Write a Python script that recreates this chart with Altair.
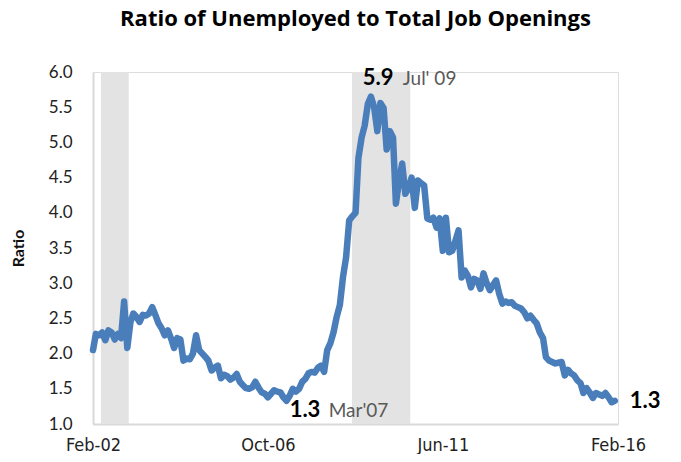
import altair as alt
import pandas as pd

# Monthly ratio, Feb 2002 .. Jan 2016
ratio = [
    2.05, 2.28, 2.26, 2.30, 2.19, 2.33, 2.30, 2.20, 2.28, 2.22,
    2.74, 2.08, 2.45, 2.57, 2.52, 2.45, 2.55, 2.54, 2.57, 2.66,
    2.55, 2.43, 2.36, 2.26, 2.33, 2.22, 2.08, 2.22, 2.20, 1.90,
    1.93, 1.92, 2.00, 2.26, 2.05, 2.00, 1.95, 1.90, 1.76, 1.80,
    1.83, 1.65, 1.70, 1.68, 1.63, 1.66, 1.71, 1.60, 1.55, 1.51,
    1.50, 1.52, 1.60, 1.52, 1.45, 1.43, 1.38, 1.43, 1.48, 1.46,
    1.45, 1.38, 1.33, 1.40, 1.50, 1.46, 1.50, 1.60, 1.64, 1.72,
    1.74, 1.73, 1.80, 1.83, 1.74, 2.05, 2.15, 2.30, 2.52, 2.69,
    3.08, 3.37, 3.89, 3.95, 4.00, 4.78, 5.07, 5.24, 5.55, 5.65,
    5.50, 5.16, 5.56, 5.49, 4.90, 5.16, 5.07, 4.13, 4.45, 4.70,
    4.27, 4.35, 4.50, 4.07, 4.46, 4.42, 4.39, 3.92, 3.90, 3.93,
    3.79, 3.92, 3.46, 3.93, 3.44, 3.46, 3.60, 3.75, 3.08, 3.18,
    3.10, 2.94, 3.06, 3.04, 2.92, 3.14, 3.00, 2.90, 2.97, 3.04,
    2.85, 2.71, 2.74, 2.72, 2.73, 2.68, 2.66, 2.64, 2.59, 2.50,
    2.54, 2.48, 2.43, 2.30, 2.22, 1.95, 1.90, 1.88, 1.86, 1.87,
    1.88, 1.69, 1.77, 1.72, 1.69, 1.62, 1.58, 1.44, 1.51, 1.45,
    1.37, 1.44, 1.42, 1.40, 1.44, 1.38, 1.31, 1.33,
]
months = pd.date_range("2002-02-01", periods=len(ratio), freq="MS").strftime("%Y-%m-%d").tolist()

# Shaded bands as drawn in the reference
band_start = ["2002-04-19", "2008-12-28"]
band_end = ["2003-01-15", "2010-07-19"]

# Annotations
ann_text = ["5.9", "Jul' 09", "1.3", "Mar'07", "1.3"]
ann_date = ["2009-04-13", "2010-05-07", "2007-05-01", "2008-05-16", "2016-05-25"]
ann_value = [5.816, 5.816, 1.099, 1.099, 1.227]
ann_kind = ["value", "label", "value", "label", "value"]

x_ticks = ["2002-02-01", "2006-10-01", "2011-06-01", "2016-02-01"]
y_ticks = [1.0, 1.5, 2.0, 2.5, 3.0, 3.5, 4.0, 4.5, 5.0, 5.5, 6.0]

df = pd.DataFrame({"date": months, "ratio": ratio})
bands = pd.DataFrame({"start": band_start, "end": band_end})
ann = pd.DataFrame({"text": ann_text, "date": ann_date, "value": ann_value, "kind": ann_kind})

def dt(s):
    y, m, d = (int(p) for p in s.split("-"))
    return alt.DateTime(year=y, month=m, date=d)

x_scale = alt.Scale(domain=[dt("2002-02-01"), dt("2016-02-01")])
y_scale = alt.Scale(domain=[1, 6], nice=False)

narrow = "Liberation Sans Narrow, DejaVu Sans Condensed, Roboto, sans-serif"

x_axis = alt.Axis(
    values=[dt(s) for s in x_ticks], format="%b-%y", title=None,
    labelFont=narrow, labelFontSize=18, labelColor="#222222",
    labelPadding=12, ticks=False, grid=False, domainColor="#d9d9d9", domainWidth=2,
    labelOverlap=False, labelFlush=False,
)
y_axis = alt.Axis(
    values=y_ticks, format=".1f", title="Ratio", tickCount=11,
    labelFont="Lato", labelFontSize=17, labelColor="#222222", labelPadding=21,
    labelOverlap=False, labelFlush=False,
    ticks=False, grid=False, domainColor="#d9d9d9", domainWidth=2,
    titleFont="Lato", titleFontSize=16, titleFontWeight="bold", titleColor="#111111",
    titleAngle=270, titleX=-75, titleY=176, titleBaseline="middle", titleAlign="center",
)

shade = alt.Chart(bands).mark_rect(color="#e3e3e3").encode(
    x=alt.X("start:T", scale=x_scale, axis=x_axis),
    x2="end:T",
    y=alt.Y(datum=6, type="quantitative", scale=y_scale, axis=y_axis),
    y2=alt.datum(1),
)

line = alt.Chart(df).mark_line(
    color="#4a7ebb", strokeWidth=6.5, strokeJoin="round", strokeCap="round"
).encode(
    x=alt.X("date:T", scale=x_scale, axis=x_axis),
    y=alt.Y("ratio:Q", scale=y_scale, axis=y_axis),
)

values_txt = alt.Chart(ann).transform_filter(alt.datum.kind == "value").mark_text(
    font="Lato", fontSize=22, fontWeight="bold", color="#000000",
    align="left", baseline="alphabetic",
).encode(x=alt.X("date:T", scale=x_scale), y=alt.Y("value:Q", scale=y_scale), text="text:N")

labels_txt = alt.Chart(ann).transform_filter(alt.datum.kind == "label").mark_text(
    font="Lato", fontSize=19, color="#595959",
    align="left", baseline="alphabetic",
).encode(x=alt.X("date:T", scale=x_scale), y=alt.Y("value:Q", scale=y_scale), text="text:N")

chart = alt.layer(shade, line, values_txt, labels_txt).properties(
    width=525, height=352,
    title=alt.TitleParams(
        "Ratio of Unemployed to Total Job Openings",
        font="Open Sans", fontSize=22, fontWeight="bold", color="#000000",
        anchor="middle", offset=32,
    ),
    autosize=alt.AutoSizeParams(type="none"),
    padding={"left": 85, "top": 64, "right": 55, "bottom": 30},
).configure_view(stroke=None).configure_axis(labelOverlap=False).configure(background="white")

chart.save("out.html", embed_options={"renderer": "svg", "actions": False})
